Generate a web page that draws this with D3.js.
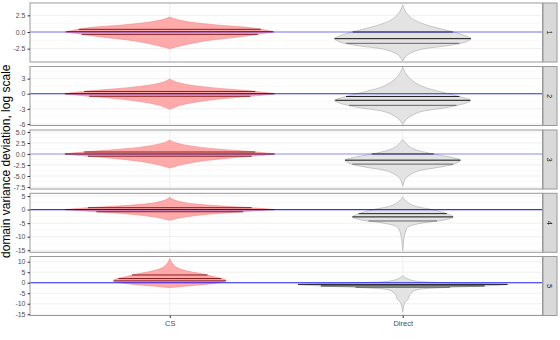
<!DOCTYPE html>
<html><head><meta charset="utf-8">
<script src="https://cdn.jsdelivr.net/npm/d3@7"></script>
<style>body{margin:0;background:#fff}svg{display:block;font-family:"Liberation Sans",Arial,sans-serif}</style>
</head><body>
<svg id="c" width="560" height="340"></svg>
<script>
const categories = ["CS", "Direct"];
const panels = ["1", "2", "3", "4", "5"];
const yDomains = [[-4.5, 4.35], [-6.3, 5.4], [-7.95, 5.45], [-15.75, 6.0], [-15.6, 12.5]];
const yTicks = [[-2.5, 0, 2.5], [-6, -3, 0, 3], [-7.5, -5, -2.5, 0, 2.5, 5], [-15, -10, -5, 0, 5], [-15, -10, -5, 0, 5, 10]];
const yTickLabels = [["-2.5", "0.0", "2.5"], ["-6", "-3", "0", "3"], ["-7.5", "-5.0", "-2.5", "0.0", "2.5", "5.0"], ["-15", "-10", "-5", "0", "5"], ["-15", "-10", "-5", "0", "5", "10"]];
// violin density profiles: [value, relative half width]
const csProfiles = [
  [[2.25,0],[1.95,0.05],[1.5,0.19],[1.05,0.45],[0.6,0.8],[0.1,0.97],[0,1],[-0.2,0.9],[-0.45,0.8],[-0.9,0.57],[-1.35,0.33],[-1.95,0.14],[-2.5,0]],
  [[2.9,0],[2.4,0.05],[1.8,0.17],[1.2,0.4],[0.6,0.75],[0.1,0.97],[0,1],[-0.3,0.88],[-0.8,0.6],[-1.5,0.3],[-2.3,0.1],[-3.1,0]],
  [[3.2,0],[2.6,0.05],[1.9,0.18],[1.2,0.42],[0.6,0.75],[0.1,0.97],[0,1],[-0.3,0.88],[-0.9,0.58],[-1.7,0.28],[-2.5,0.1],[-3.2,0]],
  [[4.5,0],[3.6,0.04],[2.5,0.15],[1.5,0.42],[0.7,0.78],[0.1,0.97],[0,1],[-0.4,0.85],[-1.2,0.55],[-2.2,0.25],[-3.2,0.08],[-4,0]],
  [[11.5,0],[9.5,0.02],[7.5,0.06],[5.8,0.15],[4.5,0.28],[3.7,0.36],[2.5,0.45],[1.5,0.53],[1.0,0.54],[0.3,0.5],[-0.6,0.38],[-1.4,0.2],[-2.3,0]]
];
const directProfiles = [
  [[4.05,0],[3,0.03],[2,0.09],[1.2,0.2],[0.4,0.38],[-0.3,0.55],[-1,0.65],[-1.5,0.6],[-2,0.45],[-2.7,0.15],[-3.5,0.04],[-4.35,0]],
  [[5.3,0],[4,0.03],[2.8,0.08],[1.5,0.18],[0.3,0.38],[-0.6,0.55],[-1.35,0.65],[-2,0.58],[-2.8,0.4],[-3.7,0.15],[-5,0.04],[-6.1,0]],
  [[3.3,0],[2.2,0.04],[1.2,0.1],[0.2,0.25],[-0.7,0.45],[-1.4,0.55],[-2.2,0.5],[-3,0.35],[-4,0.13],[-5.5,0.03],[-7.3,0]],
  [[4.6,0],[3.2,0.03],[1.5,0.1],[0,0.28],[-1.5,0.42],[-2.7,0.48],[-3.8,0.4],[-5,0.18],[-6.5,0.05],[-9,0.02],[-15,0]],
  [[3.5,0],[2.5,0.02],[1,0.1],[0,0.4],[-0.8,1],[-1.6,0.75],[-2.4,0.35],[-3.6,0.12],[-5.5,0.07],[-8,0.05],[-9.5,0.02],[-14,0]]
];
const csQuantiles = [[-0.35, 0.05, 0.4], [-0.5, 0.0, 0.45], [-0.5, 0.0, 0.45], [-0.8, 0.0, 0.7], [0.9, 2.0, 3.7]];
const directQuantiles = [[-1.7, -1.0, 0.0], [-2.3, -1.3, -0.55], [-2.3, -1.4, 0.0], [-4.2, -2.7, -1.5], [-2.2, -1.5, -0.8]];
const hlineOpacity = [0.5, 0.8, 0.4, 0.8, 0.85];

const svg = d3.select("#c");
const L = 30, R = 542.5, stripW = 14;
const panelTops = [3, 66.5, 130, 193.3, 256.5], panelH = 59;
const x = d3.scalePoint().domain(categories).range([L, R]).padding(0.6);
const unit = (R - L) / 2.2;
const maxHalf = unit * 0.45;

panels.forEach((p, i) => {
  const top = panelTops[i];
  const y = d3.scaleLinear().domain(yDomains[i]).range([top + panelH, top]);
  const g = svg.append("g");
  // grid
  const majors = yTicks[i];
  const step = majors[1] - majors[0];
  const minors = [];
  for (let v = majors[0] - step / 2; v <= yDomains[i][1]; v += step) if (v >= yDomains[i][0]) minors.push(v);
  g.selectAll(".mn").data(minors).join("line").attr("x1", L).attr("x2", R)
    .attr("y1", d => y(d)).attr("y2", d => y(d)).attr("stroke", "#f5f5f5").attr("stroke-width", 0.6);
  g.selectAll(".mj").data(majors).join("line").attr("x1", L).attr("x2", R)
    .attr("y1", d => y(d)).attr("y2", d => y(d)).attr("stroke", "#ebebeb").attr("stroke-width", 0.8);
  g.selectAll(".vx").data(categories).join("line").attr("x1", d => x(d)).attr("x2", d => x(d))
    .attr("y1", top).attr("y2", top + panelH).attr("stroke", "#ebebeb").attr("stroke-width", 0.8);

  const drawViolin = (cat, prof, qs, fill, stroke, qcols) => {
    const cx = x(cat);
    const area = d3.area().curve(d3.curveCatmullRom)
      .y(d => y(d[0])).x0(d => cx - d[1] * maxHalf).x1(d => cx + d[1] * maxHalf);
    g.append("path").attr("d", area(prof)).attr("fill", fill).attr("stroke", stroke).attr("stroke-width", 0.6);
    const asc = prof.slice().reverse();
    const wAt = d3.scaleLinear().domain(asc.map(d => d[0])).range(asc.map(d => d[1]));
    qs.forEach((q, k) => {
      const w = wAt(q) * maxHalf;
      g.append("line").attr("x1", cx - w).attr("x2", cx + w).attr("y1", y(q)).attr("y2", y(q))
        .attr("stroke", qcols[k]).attr("stroke-width", 1);
    });
  };
  drawViolin("CS", csProfiles[i], csQuantiles[i], "#ffaaaa", "#f08a8a", ["#8b1a1a", "#8b1a1a", "#8b1a1a"]);
  drawViolin("Direct", directProfiles[i], directQuantiles[i], "#e3e3e3", "#a8a8a8", ["#666", "#111", "#222"]);

  g.append("line").attr("x1", L).attr("x2", R).attr("y1", y(0)).attr("y2", y(0))
    .attr("stroke", "blue").attr("stroke-opacity", hlineOpacity[i]).attr("stroke-width", 1.1);

  // border
  g.append("rect").attr("x", L).attr("y", top).attr("width", R - L).attr("height", panelH)
    .attr("fill", "none").attr("stroke", "#999").attr("stroke-width", 1);
  // axis
  const ax = g.append("g").attr("transform", `translate(${L},0)`)
    .call(d3.axisLeft(y).tickValues(majors).tickSize(2.5).tickFormat((d, k) => yTickLabels[i][k]));
  ax.select(".domain").remove();
  ax.selectAll("line").attr("stroke", "#333");
  ax.selectAll("text").attr("fill", "#4d4d4d").attr("font-size", 7).attr("font-family", "Liberation Sans, Arial, sans-serif").attr("dx", 1);
  // strip
  g.append("rect").attr("x", R + 0.5).attr("y", top).attr("width", stripW).attr("height", panelH)
    .attr("fill", "#d9d9d9").attr("stroke", "#999").attr("stroke-width", 1);
  g.append("text").attr("transform", `translate(${R + 0.5 + stripW / 2},${top + panelH / 2}) rotate(90)`)
    .attr("text-anchor", "middle").attr("dy", "0.35em").attr("font-size", 7.5).attr("fill", "#1a1a1a").text(p);
});

// x axis
const bottom = panelTops[4] + panelH;
const xa = svg.append("g").attr("transform", `translate(0,${bottom})`).call(d3.axisBottom(x).tickSize(2.5));
xa.select(".domain").remove();
xa.selectAll("line").attr("stroke", "#333");
xa.selectAll("text").attr("fill", "#4d4d4d").attr("font-size", 7.5).attr("font-family", "Liberation Sans, Arial, sans-serif");

svg.append("text").attr("transform", `translate(10,${(panelTops[0] + bottom) / 2 + 2}) rotate(-90)`)
  .attr("text-anchor", "middle").attr("font-size", 12).attr("fill", "#000").text("domain variance deviation, log scale");
</script>
</body></html>
